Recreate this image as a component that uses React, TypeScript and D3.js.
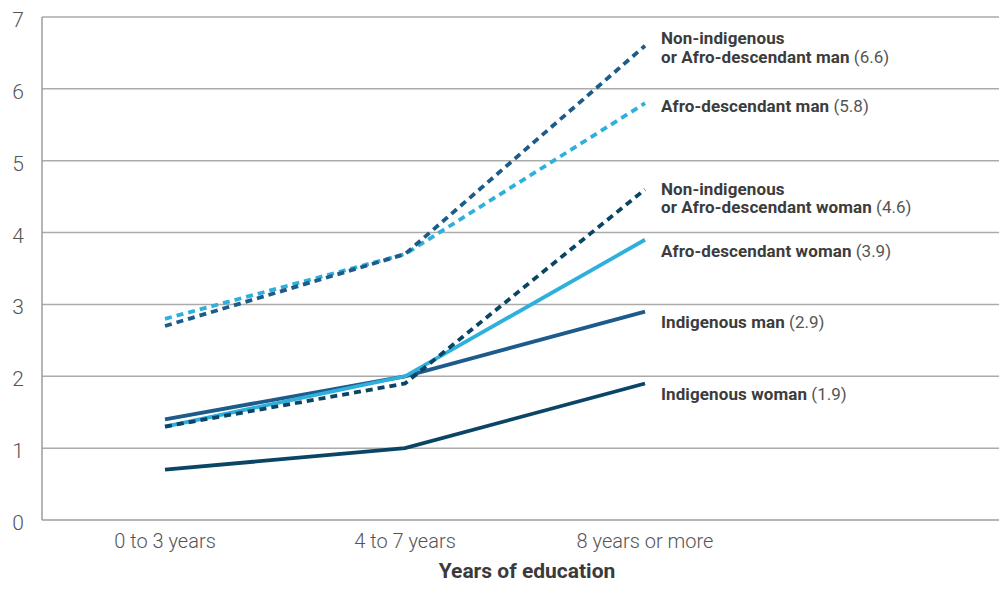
import React from 'react';
import * as d3 from 'd3';

const categories = ['0 to 3 years', '4 to 7 years', '8 years or more'];
const yTicks = [0, 1, 2, 3, 4, 5, 6, 7];

const seriesNames = [
  'Indigenous woman',
  'Indigenous man',
  'Afro-descendant woman',
  'Non-indigenous|or Afro-descendant woman',
  'Afro-descendant man',
  'Non-indigenous|or Afro-descendant man',
];
const indigenousWoman = [0.7, 1.0, 1.9];
const indigenousMan = [1.4, 2.0, 2.9];
const afroWoman = [1.3, 2.0, 3.9];
const nonIndigenousWoman = [1.3, 1.9, 4.6];
const afroMan = [2.8, 3.7, 5.8];
const nonIndigenousMan = [2.7, 3.7, 6.6];
const seriesValues = [indigenousWoman, indigenousMan, afroWoman, nonIndigenousWoman, afroMan, nonIndigenousMan];

// styling per series (same order as above)
const colors = ['#0b4566', '#1c5b8a', '#2fb0dc', '#0b4566', '#2fb0dc', '#1c5b8a'];
const dashed = [false, false, false, true, true, true];
// hand placed label offsets (px, from line end)
const labelDy = [17, 16.5, 17, 5.5, 8.5, -1.5];

const W = 999;
const H = 590;
const left = 42;
const top = 17;
const bottom = 520;

const App: React.FC = () => {
  const x = d3.scalePoint<string>().domain(categories).range([165, 645]);
  const y = d3.scaleLinear().domain([0, 7]).range([bottom, top]);

  const line = d3.line<number>()
    .x((_, i) => x(categories[i])!)
    .y((d) => y(d));

  const font = 'Roboto, "Liberation Sans", sans-serif';

  return <div>
    <style>{`body{margin:0}`}</style>
    <svg width={W} height={H} style={{display: 'block', fontFamily: font}}>
      {yTicks.filter(t => t > 0).map(t =>
        <line key={'g' + t} x1={left} x2={W} y1={y(t)} y2={y(t)} stroke="#ababab" strokeWidth={1.5}/>
      )}
      <line x1={left} x2={W} y1={y(0)} y2={y(0)} stroke="#9c9c9c" strokeWidth={1.5}/>
      <line x1={left} x2={left} y1={y(7)} y2={y(0)} stroke="#9c9c9c" strokeWidth={1.5}/>
      {yTicks.map(t =>
        <text key={'y' + t} x={24} y={y(t) + 3} textAnchor="end" dominantBaseline="central"
              fontSize={21} fontWeight={300} fill="#555">{t}</text>
      )}
      {categories.map(c =>
        <text key={c} x={x(c)} y={548} textAnchor="middle" fontSize={20} fontWeight={300} fill="#555">{c}</text>
      )}
      <text x={527} y={578} textAnchor="middle" fontSize={21} fontWeight="bold" fill="#3a3a3a">Years of education</text>

      {seriesValues.map((vals, i) =>
        <path key={'s' + i} d={line(vals)!} fill="none" stroke={colors[i]} strokeWidth={3.8}
              strokeDasharray={dashed[i] ? '7,5' : undefined}/>
      )}

      {seriesNames.map((name, i) => {
        const vals = seriesValues[i];
        const last = vals[vals.length - 1];
        const parts = name.split('|');
        const y0 = y(last) + labelDy[i];
        return <text key={'l' + i} x={661} y={y0} fontSize={17}>
          {parts.map((p, j) =>
            <tspan key={j} x={661} dy={j === 0 ? 0 : 18.5} fontWeight="bold" fill="#3c3c3c"
                   letterSpacing={0.1}>{p}</tspan>
          )}
          <tspan fill="#555" fontSize={17}> ({last.toFixed(1)})</tspan>
        </text>;
      })}
    </svg>
  </div>;
};

export default App;
